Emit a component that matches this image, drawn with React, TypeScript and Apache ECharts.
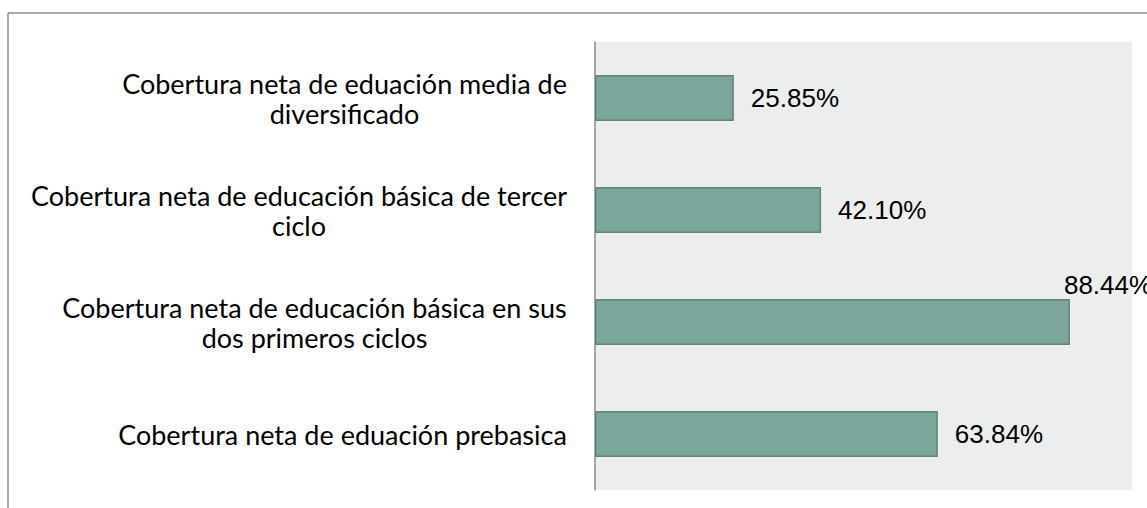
import React, { useEffect, useRef } from "react";
import * as echarts from "echarts";

const categories: string[] = [
  "Cobertura neta de eduación prebasica",
  "Cobertura neta de educación básica en sus\ndos primeros ciclos",
  "Cobertura neta de educación básica de tercer\nciclo",
  "Cobertura neta de eduación media de\ndiversificado",
];
const coverage: number[] = [63.84, 88.44, 42.1, 25.85];
const xMin = 0;
const xMax = 100;

const CAT_FONT = "Lato";
const CAT_SIZE = 27;
const VAL_FONT = "'Liberation Sans', Arial, sans-serif";
const VAL_SIZE = 26;

function measure(text: string): number {
  const c = document.createElement("canvas");
  const ctx = c.getContext("2d");
  if (!ctx) return text.length * CAT_SIZE * 0.5;
  ctx.font = `${CAT_SIZE}px ${CAT_FONT}`;
  return ctx.measureText(text).width;
}

export default function App() {
  const ref = useRef<HTMLDivElement>(null);
  useEffect(() => {
    if (!ref.current) return;
    const chart = echarts.init(ref.current, undefined, { renderer: "svg" });
    const rich: Record<string, any> = {};
    categories.forEach((c, i) => {
      const w = Math.max(...c.split("\n").map(measure));
      rich["c" + i] = {
        width: Math.ceil(w) + 2,
        align: "center",
        fontFamily: CAT_FONT,
        fontSize: CAT_SIZE,
        lineHeight: 30,
        color: "#000",
      };
    });
    const data = coverage.map((v, i) =>
      i === 1
        ? { value: v, label: { offset: [-23, -37] } }
        : { value: v }
    );
    chart.setOption({
      animation: false,
      grid: {
        left: 595,
        right: 15,
        top: 42,
        bottom: 18,
        show: true,
        backgroundColor: "#EBEEED",
        borderWidth: 0,
      },
      xAxis: {
        type: "value",
        min: xMin,
        max: xMax,
        show: false,
      },
      yAxis: {
        type: "category",
        data: categories,
        axisLine: { show: true, lineStyle: { color: "#8a8a8a", width: 1.5 } },
        axisTick: { show: false },
        splitLine: { show: false },
        axisLabel: {
          margin: 27,
          formatter: (value: string, idx: number) =>
            value
              .split("\n")
              .map((l) => `{c${idx}|${l}}`)
              .join("\n"),
          rich,
        },
      },
      series: [
        {
          type: "bar",
          data,
          barWidth: 46,
          itemStyle: {
            color: "#7BA69B",
            borderColor: "#5F857A",
            borderWidth: 1.5,
          },
          label: {
            show: true,
            position: "right",
            distance: 17,
            fontFamily: VAL_FONT,
            fontSize: VAL_SIZE,
            color: "#000",
            formatter: (p: any) => Number(p.value).toFixed(2) + "%",
          },
        },
      ],
      graphic: [
        {
          type: "line",
          shape: { x1: 8, y1: 13, x2: 1147, y2: 13 },
          style: { stroke: "#8c8c8c", lineWidth: 1.5 },
          silent: true,
        },
        {
          type: "line",
          shape: { x1: 8, y1: 13, x2: 8, y2: 508 },
          style: { stroke: "#8c8c8c", lineWidth: 1.5 },
          silent: true,
        },
      ],
    });
    return () => chart.dispose();
  }, []);
  return (
    <div
      ref={ref}
      style={{ position: "absolute", left: 0, top: 0, width: 1147, height: 508 }}
    />
  );
}
